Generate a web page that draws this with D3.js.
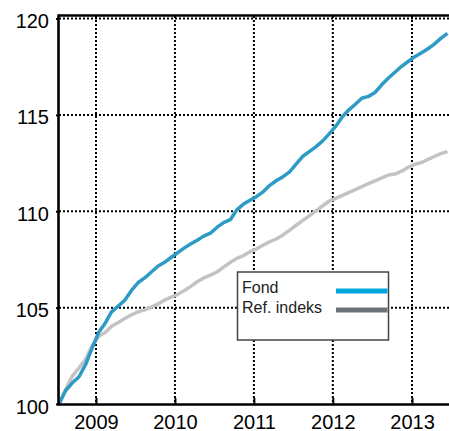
<!DOCTYPE html>
<html>
<head>
<meta charset="utf-8">
<script src="https://cdn.jsdelivr.net/npm/d3@7"></script>
<style>
  body { margin: 0; background: #fff; }
  svg { display: block; font-family: "Liberation Sans", Arial, sans-serif; }
</style>
</head>
<body>
<div id="chart"></div>
<script>
// 月次データ (2008年7月〜2013年6月), 100を基準にした指数
const startMonth = "2008-07-14";
const fondValues = [100, 100.7, 101.1, 101.4, 102.05, 102.9, 103.72, 104.22, 104.78, 105.08, 105.38, 105.89,
  106.29, 106.54, 106.85, 107.15, 107.35, 107.6, 107.85, 108.1, 108.3, 108.5, 108.71, 108.86,
  109.16, 109.41, 109.56, 110.07, 110.37, 110.57, 110.77, 111.02, 111.33, 111.58, 111.78, 112.03,
  112.43, 112.84, 113.09, 113.34, 113.64, 114.0, 114.4, 114.9, 115.25, 115.55, 115.86, 115.96,
  116.16, 116.56, 116.91, 117.21, 117.52, 117.77, 118.02, 118.22, 118.42, 118.67, 118.97, 119.23];
const refValues = [100, 100.75, 101.46, 101.86, 102.32, 103.02, 103.52, 103.72, 104.03, 104.23, 104.43, 104.63,
  104.78, 104.88, 105.03, 105.18, 105.39, 105.54, 105.69, 105.89, 106.09, 106.34, 106.54, 106.69,
  106.85, 107.1, 107.35, 107.55, 107.7, 107.9, 108.05, 108.25, 108.41, 108.56, 108.76, 109.01,
  109.26, 109.51, 109.76, 110.02, 110.27, 110.52, 110.67, 110.82, 110.97, 111.12, 111.28, 111.43,
  111.58, 111.73, 111.88, 111.93, 112.08, 112.28, 112.43, 112.53, 112.68, 112.84, 112.99, 113.09];
const yTicks = [100, 105, 110, 115, 120];
const xTickYears = [2009, 2010, 2011, 2012, 2013];
const seriesNames = ["Fond", "Ref. indeks"];

const width = 449, height = 431;
const plotLeft = 59, plotRight = 449, plotTop = 18.5, plotBottom = 404;

const parse = d3.timeParse("%Y-%m-%d");
const start = parse(startMonth);
const dates = fondValues.map((d, i) => d3.timeMonth.offset(start, i));

const x = d3.scaleTime()
  .domain([parse("2008-07-14"), parse("2013-06-21")])
  .range([plotLeft, plotRight]);
const y = d3.scaleLinear().domain([100, 120]).range([plotBottom, plotTop]);

const svg = d3.select("#chart").append("svg")
  .attr("width", width).attr("height", height);

// グリッド (点線)
const xTicks = xTickYears.map(yr => new Date(yr, 0, 1));
svg.append("g").selectAll("line")
  .data(xTicks).join("line")
  .attr("x1", d => x(d)).attr("x2", d => x(d))
  .attr("y1", 16).attr("y2", plotBottom)
  .attr("stroke", "#000").attr("stroke-width", 2).attr("stroke-dasharray", "2,2");
svg.append("g").selectAll("line")
  .data(yTicks.slice(1)).join("line")
  .attr("x1", plotLeft).attr("x2", plotRight)
  .attr("y1", d => y(d)).attr("y2", d => y(d))
  .attr("stroke", "#000").attr("stroke-width", 2).attr("stroke-dasharray", "2,2");

// 線
const line = d3.line().x((d, i) => x(dates[i])).y(d => y(d));
svg.append("path").datum(refValues)
  .attr("fill", "none").attr("stroke", "#c3c3c3").attr("stroke-width", 3.5)
  .attr("stroke-linejoin", "round").attr("d", line);
svg.append("path").datum(fondValues)
  .attr("fill", "none").attr("stroke", "#2e9bc5").attr("stroke-width", 3.5)
  .attr("stroke-linejoin", "round").attr("d", line);

// 軸
const yAxis = svg.append("g")
  .attr("transform", `translate(${plotLeft},0)`)
  .call(d3.axisLeft(y).tickValues(yTicks).tickSize(3).tickFormat(d3.format("d")));
yAxis.select(".domain").remove();
yAxis.selectAll("line").attr("stroke-width", 2);
yAxis.selectAll("text")
  .attr("x", -10).attr("dy", "0.45em")
  .attr("font-size", 20).attr("fill", "#000")
  .attr("font-family", "Liberation Sans, Arial, sans-serif");

const xAxis = svg.append("g")
  .attr("transform", `translate(0,${plotBottom})`)
  .call(d3.axisTop(x).tickValues(xTicks).tickSize(6).tickFormat(d3.timeFormat("%Y")));
xAxis.select(".domain").remove();
xAxis.selectAll("line").attr("stroke-width", 2);
xAxis.selectAll("text")
  .attr("y", 25).attr("dy", 0)
  .attr("font-size", 20).attr("fill", "#000")
  .attr("font-family", "Liberation Sans, Arial, sans-serif");

// 枠線
svg.append("line").attr("x1", plotLeft - 1).attr("x2", plotRight).attr("y1", 15.5).attr("y2", 15.5)
  .attr("stroke", "#000").attr("stroke-width", 2.6);
svg.append("line").attr("x1", plotLeft - 0.5).attr("x2", plotLeft - 0.5).attr("y1", 14.5).attr("y2", plotBottom + 1)
  .attr("stroke", "#000").attr("stroke-width", 2.6);
svg.append("line").attr("x1", plotLeft - 1.5).attr("x2", plotRight).attr("y1", plotBottom + 0.5).attr("y2", plotBottom + 0.5)
  .attr("stroke", "#000").attr("stroke-width", 2.6);

// 凡例
const legend = svg.append("g").attr("transform", "translate(237.5,272)");
legend.append("rect").attr("width", 151).attr("height", 68)
  .attr("fill", "#fff").attr("stroke", "#444").attr("stroke-width", 1.5);
const legendColors = ["#00a6dc", "#6e7378"];
seriesNames.forEach((name, i) => {
  legend.append("text").attr("x", 4.5).attr("y", 21 + i * 19.5)
    .attr("font-size", 16).attr("fill", "#222").text(name);
  legend.append("line").attr("x1", 98.5).attr("x2", 150).attr("y1", 19 + i * 19).attr("y2", 19 + i * 19)
    .attr("stroke", legendColors[i]).attr("stroke-width", 5);
});
</script>
</body>
</html>
